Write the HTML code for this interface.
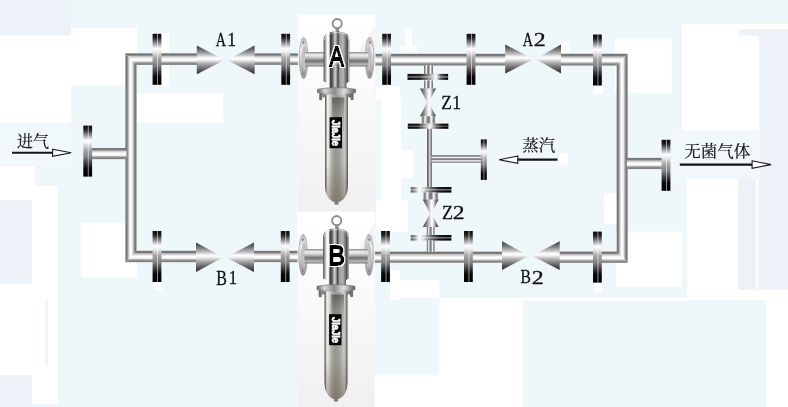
<!DOCTYPE html>
<html lang="zh"><head><meta charset="utf-8"><title>过滤器管路示意图</title>
<style>
html,body{margin:0;padding:0;background:#eef7fa;}
body{width:788px;height:407px;overflow:hidden;}
body{position:relative;}
svg{display:block;will-change:transform;position:absolute;left:0;top:0;}
#labels{position:absolute;left:0;top:0;width:788px;height:407px;will-change:transform;}
.hl span{position:absolute;left:0;top:0;display:block;white-space:pre;transform-origin:0 0;font-family:"Liberation Serif",serif;color:#111;-webkit-text-stroke:0.3px #111;}
text{font-family:"Liberation Serif","Noto Serif CJK SC",serif;fill:#111;}
.lab{font-size:19px;stroke:#111;stroke-width:0.3px;}
.cn{font-size:16px;stroke:#111;stroke-width:0.2px;}
.big{font-family:"Liberation Sans","Noto Sans CJK SC",sans-serif;font-weight:normal;font-size:27.8px;fill:#000;stroke:#000;stroke-width:1.8px;stroke-linejoin:miter;}
.brand{font-family:"Liberation Sans",sans-serif;font-weight:bold;font-size:11.5px;fill:#fff;stroke:#fff;stroke-width:0.7px;}
</style></head><body>
<svg width="788" height="407" viewBox="0 0 788 407">
<defs>
<linearGradient id="ph" x1="0" y1="0" x2="0" y2="1">
 <stop offset="0" stop-color="#8a8a8a"/><stop offset="0.07" stop-color="#6e6e6e"/><stop offset="0.16" stop-color="#808080"/><stop offset="0.27" stop-color="#c4c4c4"/>
 <stop offset="0.4" stop-color="#ececec"/><stop offset="0.5" stop-color="#ffffff"/><stop offset="0.66" stop-color="#f6f6f6"/><stop offset="0.76" stop-color="#b4b4b4"/>
 <stop offset="0.86" stop-color="#8a8a8a"/><stop offset="0.94" stop-color="#808080"/><stop offset="1" stop-color="#a8a8a8"/>
</linearGradient>
<linearGradient id="pv" x1="0" y1="0" x2="1" y2="0">
 <stop offset="0" stop-color="#8a8a8a"/><stop offset="0.08" stop-color="#767676"/><stop offset="0.18" stop-color="#8a8a8a"/><stop offset="0.3" stop-color="#cacaca"/><stop offset="0.42" stop-color="#ffffff"/>
 <stop offset="0.6" stop-color="#f4f4f4"/><stop offset="0.72" stop-color="#b8b8b8"/><stop offset="0.84" stop-color="#808080"/><stop offset="0.93" stop-color="#707070"/><stop offset="1" stop-color="#8a8a8a"/>
</linearGradient>
<linearGradient id="fl" x1="0" y1="0" x2="0" y2="1">
 <stop offset="0" stop-color="#0c0c0c"/><stop offset="0.08" stop-color="#222"/><stop offset="0.29" stop-color="#ffffff"/>
 <stop offset="0.36" stop-color="#e8e8e8"/><stop offset="0.48" stop-color="#a4a4a4"/><stop offset="0.62" stop-color="#808080"/><stop offset="0.74" stop-color="#3a3a3a"/><stop offset="0.84" stop-color="#0a0a0a"/><stop offset="1" stop-color="#000"/>
</linearGradient>
<linearGradient id="flh" x1="0" y1="0" x2="1" y2="0">
 <stop offset="0" stop-color="#0c0c0c"/><stop offset="0.3" stop-color="#222"/><stop offset="0.55" stop-color="#999"/>
 <stop offset="0.7" stop-color="#ffffff"/><stop offset="0.82" stop-color="#555"/><stop offset="1" stop-color="#000"/>
</linearGradient>
<linearGradient id="flhm" x1="0" y1="0" x2="1" y2="0">
 <stop offset="0" stop-color="#555"/><stop offset="0.1" stop-color="#999"/><stop offset="0.2" stop-color="#ffffff"/><stop offset="0.3" stop-color="#e0e0e0"/>
 <stop offset="0.5" stop-color="#666"/><stop offset="0.7" stop-color="#1a1a1a"/><stop offset="1" stop-color="#000"/>
</linearGradient>
<linearGradient id="flh2" x1="0" y1="0" x2="1" y2="0">
 <stop offset="0" stop-color="#0c0c0c"/><stop offset="0.25" stop-color="#1c1c1c"/><stop offset="0.42" stop-color="#999"/>
 <stop offset="0.55" stop-color="#ffffff"/><stop offset="0.7" stop-color="#666"/><stop offset="0.85" stop-color="#111"/><stop offset="1" stop-color="#000"/>
</linearGradient>
<linearGradient id="vt" x1="0" y1="0" x2="0" y2="1">
 <stop offset="0" stop-color="#383838"/><stop offset="0.18" stop-color="#7c7c7c"/><stop offset="0.34" stop-color="#c8c8c8"/><stop offset="0.43" stop-color="#ffffff"/>
 <stop offset="0.5" stop-color="#f2f2f2"/><stop offset="0.62" stop-color="#b0b0b0"/><stop offset="0.8" stop-color="#6a6a6a"/><stop offset="1" stop-color="#262626"/>
</linearGradient>
<linearGradient id="vth" x1="0" y1="0" x2="1" y2="0">
 <stop offset="0" stop-color="#3c3c3c"/><stop offset="0.25" stop-color="#8a8a8a"/><stop offset="0.55" stop-color="#ffffff"/>
 <stop offset="0.65" stop-color="#f0f0f0"/><stop offset="0.85" stop-color="#707070"/><stop offset="1" stop-color="#2a2a2a"/>
</linearGradient>
<linearGradient id="st" x1="0" y1="0" x2="1" y2="0">
 <stop offset="0" stop-color="#777"/><stop offset="0.12" stop-color="#8a8a8a"/><stop offset="0.26" stop-color="#ffffff"/><stop offset="0.4" stop-color="#8a8a8a"/><stop offset="0.55" stop-color="#777"/>
 <stop offset="0.72" stop-color="#ffffff"/><stop offset="0.88" stop-color="#8a8a8a"/><stop offset="1" stop-color="#777"/>
</linearGradient>
<linearGradient id="sth" x1="0" y1="0" x2="0" y2="1">
 <stop offset="0" stop-color="#8a8a8a"/><stop offset="0.15" stop-color="#808080"/><stop offset="0.3" stop-color="#ffffff"/><stop offset="0.45" stop-color="#909090"/><stop offset="0.58" stop-color="#808080"/>
 <stop offset="0.74" stop-color="#ffffff"/><stop offset="0.9" stop-color="#858585"/><stop offset="1" stop-color="#9a9a9a"/>
</linearGradient>
<linearGradient id="thin" x1="0" y1="0" x2="1" y2="0">
 <stop offset="0" stop-color="#5a5a5a"/><stop offset="0.3" stop-color="#888"/><stop offset="0.55" stop-color="#dcdcdc"/><stop offset="0.8" stop-color="#8a8a8a"/><stop offset="1" stop-color="#6a6a6a"/>
</linearGradient>
<linearGradient id="body" x1="0" y1="0" x2="1" y2="0">
 <stop offset="0" stop-color="#5a5a54"/><stop offset="0.05" stop-color="#8a8a84"/><stop offset="0.1" stop-color="#f4f4f2"/>
 <stop offset="0.2" stop-color="#dcdcd8"/><stop offset="0.3" stop-color="#b0b0aa"/><stop offset="0.45" stop-color="#9a9a94"/><stop offset="0.6" stop-color="#a0a09a"/>
 <stop offset="0.75" stop-color="#b8b8b2"/><stop offset="0.86" stop-color="#d2d2ce"/><stop offset="0.93" stop-color="#9a9a94"/><stop offset="1" stop-color="#55554f"/>
</linearGradient>
<linearGradient id="bodytop" x1="0" y1="0" x2="0" y2="1">
 <stop offset="0" stop-color="#1a1a1a" stop-opacity="0.45"/><stop offset="0.4" stop-color="#1a1a1a" stop-opacity="0.15"/><stop offset="1" stop-color="#1a1a1a" stop-opacity="0"/>
</linearGradient>
<linearGradient id="bodyshade" x1="0" y1="0" x2="0" y2="1">
 <stop offset="0" stop-color="#5a5040" stop-opacity="0"/><stop offset="0.6" stop-color="#5a5040" stop-opacity="0.05"/><stop offset="1" stop-color="#5a4a38" stop-opacity="0.45"/>
</linearGradient>
<linearGradient id="head" x1="0" y1="0" x2="1" y2="0">
 <stop offset="0" stop-color="#4a4a4a"/><stop offset="0.08" stop-color="#b0b0b0"/><stop offset="0.15" stop-color="#ffffff"/><stop offset="0.21" stop-color="#f0f0f0"/>
 <stop offset="0.27" stop-color="#3a3a3a"/><stop offset="0.36" stop-color="#6a6a6a"/><stop offset="0.44" stop-color="#d4d4d4"/>
 <stop offset="0.52" stop-color="#8a8a8a"/><stop offset="0.56" stop-color="#3c3c3c"/><stop offset="0.62" stop-color="#9a9a9a"/>
 <stop offset="0.76" stop-color="#b4b4b4"/><stop offset="0.85" stop-color="#7a7a7a"/><stop offset="0.93" stop-color="#4a4a4a"/><stop offset="0.97" stop-color="#c0c0c0"/><stop offset="1" stop-color="#707070"/>
</linearGradient>
<linearGradient id="noz" x1="0" y1="0" x2="0" y2="1">
 <stop offset="0" stop-color="#8a8a8a"/><stop offset="0.2" stop-color="#f4f4f4"/><stop offset="0.4" stop-color="#c4c4c4"/>
 <stop offset="0.62" stop-color="#6e6e6e"/><stop offset="0.85" stop-color="#b8b8b8"/><stop offset="1" stop-color="#7a7a7a"/>
</linearGradient>
<linearGradient id="disc" x1="0" y1="0" x2="0" y2="1">
 <stop offset="0" stop-color="#b8b8b8"/><stop offset="0.3" stop-color="#f2f2f2"/><stop offset="0.6" stop-color="#c8c8c8"/><stop offset="1" stop-color="#909090"/>
</linearGradient>
<linearGradient id="photo" x1="0" y1="0" x2="0" y2="1">
 <stop offset="0" stop-color="#ffffff"/><stop offset="0.35" stop-color="#fbfbfb"/><stop offset="0.7" stop-color="#f5f5f5"/><stop offset="1" stop-color="#f0f0f0"/>
</linearGradient>
<linearGradient id="clamp" x1="0" y1="0" x2="1" y2="0">
 <stop offset="0" stop-color="#6a6a6a"/><stop offset="0.2" stop-color="#d8d8d8"/><stop offset="0.45" stop-color="#8a8a8a"/><stop offset="0.7" stop-color="#e0e0e0"/><stop offset="1" stop-color="#606060"/>
</linearGradient>

<filter id="ol" x="-30%" y="-30%" width="160%" height="160%">
 <feMorphology in="SourceAlpha" operator="dilate" radius="3.4" result="d"/>
 <feMorphology in="d" operator="erode" radius="2.2" result="c"/>
 <feFlood flood-color="#ffffff"/><feComposite in2="c" operator="in" result="o"/>
 <feMerge><feMergeNode in="o"/><feMergeNode in="SourceGraphic"/></feMerge>
</filter>
<g id="filter">
 <rect x="298" y="14.7" width="77.3" height="197" fill="url(#photo)"/>
 <polygon points="375.3,25 375.3,62 352,62" fill="#f3f3f3"/>
 <!-- nozzles -->
 <rect x="305" y="52" width="64" height="14.5" fill="url(#noz)"/>
 <!-- discs -->
 <ellipse cx="303.6" cy="58" rx="4.3" ry="20.6" fill="url(#disc)" stroke="#a2a2a2" stroke-width="0.8"/>
 <ellipse cx="304.6" cy="58" rx="2.6" ry="12" fill="#c2c2c2" stroke="#b0b0b0" stroke-width="0.5"/>
 <ellipse cx="303.4" cy="42.5" rx="1" ry="1.6" fill="#8a8a8a"/><ellipse cx="303.4" cy="73.5" rx="1" ry="1.6" fill="#8a8a8a"/>
 <rect x="305" y="52" width="3.2" height="14.5" fill="url(#noz)"/>
 <ellipse cx="369.6" cy="58" rx="4.3" ry="20.6" fill="url(#disc)" stroke="#a2a2a2" stroke-width="0.8"/>
 <ellipse cx="368.6" cy="58" rx="2.6" ry="12" fill="#c2c2c2" stroke="#b0b0b0" stroke-width="0.5"/>
 <ellipse cx="369.8" cy="42.5" rx="1" ry="1.6" fill="#8a8a8a"/><ellipse cx="369.8" cy="73.5" rx="1" ry="1.6" fill="#8a8a8a"/>
 <rect x="365" y="52" width="3.2" height="14.5" fill="url(#noz)"/>
 <!-- ring -->
 <circle cx="337.2" cy="23.6" r="4.6" fill="none" stroke="#8a8a8a" stroke-width="1.8"/>
 <rect x="335.5" y="28" width="3.6" height="4" fill="#8e8e8e"/>
 <!-- head -->
 <path d="M327.5,88.5 V83 L323.6,81.5 V40 C323.6,34 329,31.6 336.5,31.6 C344,31.6 349.4,34 349.4,40 V81.5 L346.5,83 V88.5 Z" fill="url(#head)"/>
 <path d="M324.6,40 C324.6,35 329.5,32.6 336.5,32.6 C343.5,32.6 348.4,35 348.4,40" fill="none" stroke="#fff" stroke-opacity="0.55" stroke-width="1"/>
 <!-- clamp -->
 <path d="M317.5,89.2 Q336.5,86 355.5,89.2 V92.8 Q336.5,96.4 317.5,92.8 Z" fill="url(#clamp)" stroke="#6a6a6a" stroke-width="0.6"/>
 <rect x="319.2" y="93" width="3" height="7.2" rx="1" fill="#6e6e6e"/><rect x="350.6" y="93" width="3" height="7" rx="1" fill="#6e6e6e"/>
 <rect x="322.5" y="94" width="28.5" height="3.4" fill="url(#clamp)"/>
 <!-- body -->
 <path id="bd" d="M325,95 H348 V185 C347.8,195 344.5,200.2 338.4,202.3 V204.5 H334.6 V202.3 C328.5,200.2 325.2,195 325,185 Z" fill="url(#body)"/>
 <path d="M325,95 H348 V185 C347.8,195 344.5,200.2 338.4,202.3 V204.5 H334.6 V202.3 C328.5,200.2 325.2,195 325,185 Z" fill="url(#bodyshade)"/>
 <rect x="332" y="97.5" width="12.5" height="40" fill="url(#bodytop)"/>
 <!-- label -->
 <rect x="329.6" y="117.2" width="12.4" height="31" fill="#050505"/>
</g>
<g id="flg">
 <rect x="0" y="0" width="8.8" height="51" fill="url(#fl)"/>
 <rect x="4.5" y="0" width="0.9" height="51" fill="#fff" fill-opacity="0.6"/>
</g>
<g id="flgs">
 <rect x="0" y="0" width="6" height="40.5" fill="url(#fl)"/>
 <rect x="2.6" y="0" width="0.9" height="40.5" fill="#fff" fill-opacity="0.55"/>
</g>
<g id="flghm">
 <rect x="0" y="0" width="40.6" height="5.6" fill="url(#flhm)"/>
 <rect x="0" y="2.4" width="40.6" height="0.9" fill="#fff" fill-opacity="0.7"/>
</g>
<g id="flgh2">
 <rect x="0" y="0" width="40.6" height="5.2" fill="url(#flh2)"/>
 <rect x="0" y="2.2" width="40.6" height="0.8" fill="#fff" fill-opacity="0.5"/>
</g>
<g id="flgh">
 <rect x="0" y="0" width="40.6" height="6" fill="url(#flh)"/>
 <rect x="0" y="2.6" width="40.6" height="0.9" fill="#fff" fill-opacity="0.7"/>
</g>
</defs>

<rect x="0.0" y="0.0" width="788.0" height="407.0" fill="#eef7fa" />
<rect x="0.0" y="0.0" width="71.0" height="35.5" fill="#edf1f8" />
<rect x="0.0" y="35.5" width="71.0" height="87.5" fill="#ffffff" />
<rect x="71.0" y="28.0" width="66.0" height="57.0" fill="#ffffff" />
<rect x="137.0" y="93.0" width="86.0" height="30.0" fill="#ffffff" />
<rect x="161.0" y="33.0" width="8.0" height="53.0" fill="#ffffff" />
<rect x="0.0" y="123.0" width="71.0" height="42.0" fill="#f1f8fb" />
<rect x="0.0" y="166.0" width="35.0" height="37.0" fill="#ffffff" />
<rect x="32.0" y="186.0" width="26.0" height="17.0" fill="#ffffff" />
<rect x="0.0" y="200.0" width="32.0" height="84.0" fill="#edf1f8" />
<rect x="32.0" y="200.0" width="26.0" height="204.0" fill="#ffffff" />
<rect x="0.0" y="284.0" width="32.0" height="91.0" fill="#ffffff" />
<rect x="45.0" y="300.0" width="3.0" height="65.0" fill="#eef4fa" />
<rect x="0.0" y="375.0" width="32.0" height="32.0" fill="#edf1f8" />
<rect x="81.0" y="223.0" width="56.0" height="54.0" fill="#ffffff" />
<rect x="154.0" y="282.0" width="8.0" height="8.0" fill="#ffffff" />
<rect x="405.5" y="29.0" width="6.5" height="18.0" fill="#ffffff" />
<rect x="400.5" y="45.7" width="16.5" height="6.3" fill="#ffffff" />
<rect x="376.0" y="86.0" width="24.0" height="14.0" fill="#ffffff" />
<rect x="381.0" y="100.0" width="20.0" height="115.0" fill="#ffffff" />
<rect x="401.0" y="150.0" width="12.0" height="28.0" fill="#ffffff" />
<rect x="376.0" y="200.0" width="32.0" height="32.0" fill="#ffffff" />
<rect x="614.6" y="39.3" width="57.2" height="53.3" fill="#ffffff" />
<rect x="682.0" y="24.0" width="77.3" height="106.5" fill="#ffffff" />
<rect x="682.0" y="24.0" width="106.0" height="5.0" fill="#ffffff" />
<rect x="739.0" y="29.0" width="49.0" height="6.5" fill="#edf1f8" />
<rect x="759.3" y="35.5" width="28.7" height="264.5" fill="#edf1f8" />
<rect x="687.0" y="179.0" width="51.4" height="121.0" fill="#ffffff" />
<rect x="738.4" y="179.0" width="17.6" height="121.0" fill="#edf1f8" />
<rect x="756.0" y="179.0" width="2.0" height="121.0" fill="#ffffff" />
<rect x="616.0" y="231.6" width="65.8" height="55.2" fill="#ffffff" />
<rect x="603.7" y="193.3" width="13.3" height="30.9" fill="#ffffff" />
<rect x="594.0" y="283.0" width="8.0" height="8.5" fill="#ffffff" />
<rect x="559.0" y="153.4" width="8.6" height="11.1" fill="#ffffff" />
<rect x="561.0" y="42.3" width="8.6" height="11.2" fill="#ffffff" />
<rect x="594.0" y="85.0" width="9.0" height="9.0" fill="#ffffff" />
<rect x="672.0" y="130.5" width="88.0" height="48.5" fill="#f1f8fb" />
<rect x="390.3" y="280.0" width="49.1" height="18.0" fill="#ffffff" />
<rect x="439.4" y="298.0" width="83.6" height="109.0" fill="#ffffff" />
<rect x="375.0" y="375.3" width="148.0" height="31.7" fill="#ffffff" />
<rect x="439.4" y="298.0" width="250.6" height="3.0" fill="#ffffff" />
<rect x="687.0" y="290.0" width="101.0" height="10.0" fill="#ffffff" />
<rect x="766.0" y="300.0" width="22.0" height="107.0" fill="#ffffff" />
<rect x="390.7" y="270.0" width="9.3" height="30.0" fill="#ffffff" />
<polygon points="125.3,53.3 136.6,65.0 136.6,250.8 125.3,262.2" fill="url(#pv)"/>
<polygon points="125.3,53.3 197,53.3 197,65.0 136.6,65.0" fill="url(#ph)"/>
<polygon points="136.6,250.8 197,250.8 197,262.2 125.3,262.2" fill="url(#ph)"/>
<polygon points="627.7,53.8 627.7,262.9 616.6,251.6 616.6,65.7" fill="url(#pv)"/>
<polygon points="560,53.8 627.7,53.8 616.6,65.7 560,65.7" fill="url(#ph)"/>
<polygon points="559,251.6 616.6,251.6 627.7,262.9 559,262.9" fill="url(#ph)"/>
<rect x="254.0" y="53.3" width="47.0" height="11.7" fill="url(#ph)" />
<rect x="372.0" y="53.8" width="134.0" height="11.9" fill="url(#ph)" />
<rect x="253.5" y="250.8" width="47.5" height="11.4" fill="url(#ph)" />
<rect x="372.0" y="251.6" width="131.0" height="11.3" fill="url(#ph)" />
<rect x="92.0" y="148.0" width="34.5" height="11.2" fill="url(#ph)" />
<rect x="626.8" y="157.9" width="35.2" height="11.2" fill="url(#ph)" />
<use href="#filter"/>
<use href="#filter" transform="translate(-0.5,197)"/>
<text class="brand" transform="translate(332.3,120) rotate(90)" textLength="26" lengthAdjust="spacingAndGlyphs">JIaJIe</text>
<text class="brand" transform="translate(331.8,317) rotate(90)" textLength="26" lengthAdjust="spacingAndGlyphs">JIaJIe</text>
<g filter="url(#ol)"><text class="big" transform="translate(329.4,65.85) scale(0.77,1)">A</text></g>
<g filter="url(#ol)"><text class="big" transform="translate(328.2,264.8) scale(0.9,1)">B</text></g>
<use href="#flg" x="152.6" y="33.8"/>
<use href="#flg" x="281.3" y="33.8"/>
<use href="#flg" x="382.2" y="33.8"/>
<use href="#flg" x="466.6" y="33.8"/>
<use href="#flg" x="593.0" y="34.5"/>
<use href="#flg" x="593.0" y="231.6"/>
<use href="#flg" x="152.6" y="231"/>
<use href="#flg" x="280.8" y="231"/>
<use href="#flg" x="381.1" y="231"/>
<use href="#flg" x="464.0" y="231"/>
<use href="#flg" x="83.3" y="125.6"/>
<use href="#flg" x="661.6" y="139.8"/>
<polygon points="196.8,45.6 224.5,59.95 196.8,74.3" fill="url(#vt)"/>
<polygon points="254.6,45.6 227,59.95 254.6,74.3" fill="url(#vt)"/>
<polygon points="505.2,44.6 533.5,59.099999999999994 505.2,73.6" fill="url(#vt)"/>
<polygon points="561,44.6 535.5,59.099999999999994 561,73.6" fill="url(#vt)"/>
<polygon points="196,242.6 223.5,257.3 196,272" fill="url(#vt)"/>
<polygon points="254,242.6 226,257.3 254,272" fill="url(#vt)"/>
<polygon points="502,241.3 529,255.65 502,270" fill="url(#vt)"/>
<polygon points="559.7,241.3 532,255.65 559.7,270" fill="url(#vt)"/>
<rect x="424.0" y="65.2" width="9.0" height="8.8" fill="url(#st)" />
<use href="#flgh" x="407.5" y="73.9"/>
<rect x="424.0" y="80.4" width="9.0" height="8.4" fill="url(#st)" />
<polygon points="419.9,88.6 436,88.6 428,104" fill="url(#vth)"/>
<polygon points="419.9,116.2 436,116.2 428,101" fill="url(#vth)"/>
<rect x="421.8" y="116.2" width="13.2" height="7.4" fill="url(#st)" />
<use href="#flgh2" x="407.8" y="123.6"/>
<rect x="427.0" y="128.8" width="5.0" height="58.4" fill="url(#thin)" />
<rect x="431.5" y="155.0" width="49.5" height="7.9" fill="url(#sth)" />
<use href="#flgs" x="480.8" y="139.4"/>
<use href="#flghm" x="410.8" y="187"/>
<rect x="423.6" y="192.4" width="14.2" height="7.4" fill="url(#st)" />
<polygon points="422.8,199.6 438.6,199.6 430.8,215" fill="url(#vth)"/>
<polygon points="422.8,227 438.6,227 430.8,212" fill="url(#vth)"/>
<rect x="426.8" y="227.0" width="7.8" height="8.2" fill="url(#st)" />
<use href="#flghm" x="410.8" y="235"/>
<rect x="426.8" y="240.6" width="7.8" height="11.2" fill="url(#st)" />
<text class="cn" x="17" y="147.3" textLength="32" lengthAdjust="spacingAndGlyphs">进气</text>
<text class="cn" x="522.4" y="151.1" textLength="32.6" lengthAdjust="spacingAndGlyphs">蒸汽</text>
<text class="cn" x="684.2" y="157" textLength="66" lengthAdjust="spacingAndGlyphs">无菌气体</text>
<g stroke="#151515" stroke-width="2.1" fill="#fff">
<line x1="12" y1="152.7" x2="53" y2="152.7"/>
<polygon points="52.6,149.2 71.2,152.8 52.6,156.4" stroke-width="1.1"/>
<line x1="679.8" y1="164.6" x2="752.5" y2="164.6"/>
<polygon points="752.1,160.8 771,164.6 752.1,168.4" stroke-width="1.1"/>
<line x1="517.5" y1="159.6" x2="557.5" y2="159.6"/>
<polygon points="517.8,156 499.2,159.7 517.8,163.4" stroke-width="1.1"/>
</g>
</svg>
<div id="labels"><div class="hl"><span style="font-size:19.24px;line-height:19.24px;transform:translate(215.76px,29.59px) scaleX(0.737)">A</span><span style="font-size:19.24px;line-height:19.24px;transform:translate(227.35px,29.59px) scaleX(0.916)">1</span></div><div class="hl"><span style="font-size:19.24px;line-height:19.24px;transform:translate(522.76px,29.59px) scaleX(0.737)">A</span><span style="font-size:19.18px;line-height:19.18px;transform:translate(533.65px,29.64px) scaleX(1.248)">2</span></div><div class="hl"><span style="font-size:20.01px;line-height:20.01px;transform:translate(216.34px,268.24px) scaleX(0.797)">B</span><span style="font-size:19.84px;line-height:19.84px;transform:translate(228.63px,268.38px) scaleX(0.845)">1</span></div><div class="hl"><span style="font-size:19.40px;line-height:19.40px;transform:translate(520.45px,267.46px) scaleX(0.805)">B</span><span style="font-size:19.18px;line-height:19.18px;transform:translate(531.65px,267.64px) scaleX(1.248)">2</span></div><div class="hl"><span style="font-size:19.85px;line-height:19.85px;transform:translate(441.27px,93.17px) scaleX(0.872)">Z</span><span style="font-size:19.69px;line-height:19.69px;transform:translate(452.35px,93.31px) scaleX(0.895)">1</span></div><div class="hl"><span style="font-size:19.85px;line-height:19.85px;transform:translate(442.03px,203.17px) scaleX(0.912)">Z</span><span style="font-size:19.63px;line-height:19.63px;transform:translate(452.66px,203.36px) scaleX(1.207)">2</span></div></div>
</body></html>
